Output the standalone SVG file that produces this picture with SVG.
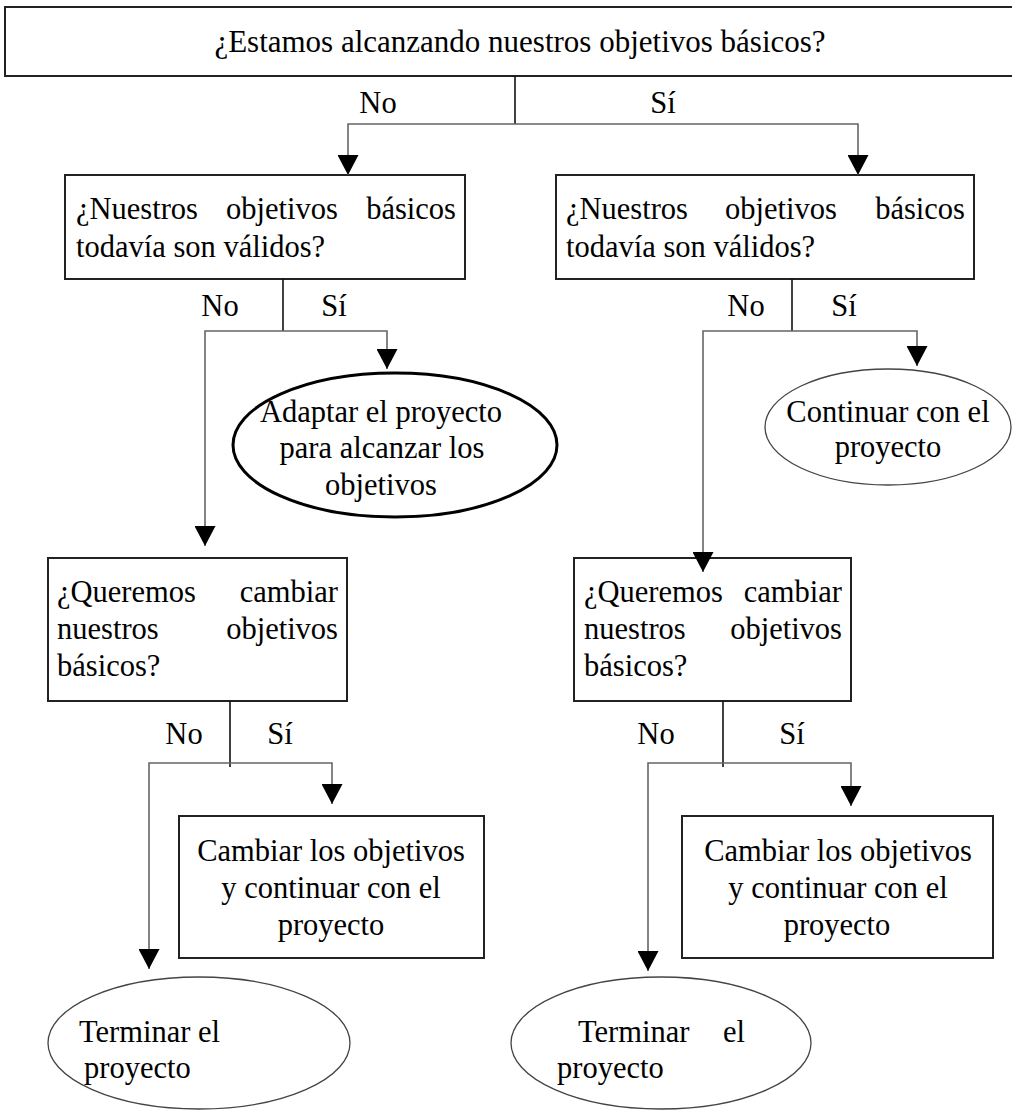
<svg xmlns="http://www.w3.org/2000/svg" width="1012" height="1110" viewBox="0 0 1012 1110">
  <style>
    text { font-family: "Liberation Serif", "Times New Roman", serif; font-size: 30.5px; fill: #000; }
    .title { font-size: 31px; }
    .mid { text-anchor: middle; }
    .end { text-anchor: end; }
    .box { fill: #fff; stroke: #222; stroke-width: 2; }
    .oval { fill: #fff; stroke: #444; stroke-width: 1.3; }
    .oval-bold { fill: #fff; stroke: #000; stroke-width: 3; }
    .stem { fill: none; stroke: #111; stroke-width: 1.6; }
    .branch { fill: none; stroke: #666; stroke-width: 1.6; marker-end: url(#arrow); }
  </style>
  <defs>
    <marker id="arrow" markerUnits="userSpaceOnUse" markerWidth="21" markerHeight="21" refX="20" refY="10.5" orient="auto">
      <path d="M0,0 L20,10.5 L0,21 z" fill="#000"/>
    </marker>
  </defs>
  <rect width="1012" height="1110" fill="#fff"/>

  <!-- top question -->
  <g id="q-main">
    <rect class="box" x="5" y="7" width="1030" height="69"/>
    <text x="520" y="52" class="title mid">¿Estamos alcanzando nuestros objetivos básicos?</text>
  </g>

  <g id="q-valid-no">
    <rect class="box" x="65" y="175" width="400" height="104"/>
    <text x="76" y="219">¿Nuestros</text>
    <text x="226" y="219">objetivos</text>
    <text x="456" y="219" class="end">básicos</text>
    <text x="76" y="257">todavía son válidos?</text>
  </g>

  <g id="q-valid-yes">
    <rect class="box" x="556" y="175" width="418" height="104"/>
    <text x="566" y="219">¿Nuestros</text>
    <text x="725" y="219">objetivos</text>
    <text x="965" y="219" class="end">básicos</text>
    <text x="566" y="257">todavía son válidos?</text>
  </g>

  <g id="adapt">
    <ellipse class="oval-bold" cx="395" cy="445" rx="162" ry="72"/>
    <text x="381" y="422" class="mid">Adaptar el proyecto</text>
    <text x="382" y="458" class="mid">para alcanzar los</text>
    <text x="381" y="495" class="mid">objetivos</text>
  </g>

  <g id="continue">
    <ellipse class="oval" cx="888" cy="427" rx="123" ry="58"/>
    <text x="888" y="422" class="mid">Continuar con el</text>
    <text x="888" y="457" class="mid">proyecto</text>
  </g>

  <g id="q-change-left">
    <rect class="box" x="48" y="558" width="299" height="143"/>
    <text x="57" y="602">¿Queremos</text>
    <text x="338" y="602" class="end">cambiar</text>
    <text x="57" y="639">nuestros</text>
    <text x="338" y="639" class="end">objetivos</text>
    <text x="57" y="676">básicos?</text>
  </g>

  <g id="q-change-right">
    <rect class="box" x="574" y="558" width="277" height="143"/>
    <text x="584" y="602">¿Queremos</text>
    <text x="842" y="602" class="end">cambiar</text>
    <text x="584" y="639">nuestros</text>
    <text x="842" y="639" class="end">objetivos</text>
    <text x="584" y="676">básicos?</text>
  </g>

  <g id="change-left">
    <rect class="box" x="179" y="816" width="305" height="142"/>
    <text x="331" y="861" class="mid">Cambiar los objetivos</text>
    <text x="331" y="898" class="mid">y continuar con el</text>
    <text x="331" y="935" class="mid">proyecto</text>
  </g>

  <g id="change-right">
    <rect class="box" x="682" y="816" width="311" height="142"/>
    <text x="838" y="861" class="mid">Cambiar los objetivos</text>
    <text x="838" y="898" class="mid">y continuar con el</text>
    <text x="837" y="935" class="mid">proyecto</text>
  </g>

  <g id="end-left">
    <ellipse class="oval" cx="199" cy="1043" rx="151" ry="66"/>
    <text x="79" y="1042">Terminar el</text>
    <text x="84" y="1078">proyecto</text>
  </g>

  <g id="end-right">
    <ellipse class="oval" cx="661" cy="1043" rx="150" ry="66"/>
    <text x="578" y="1042">Terminar</text>
    <text x="745" y="1042" class="end">el</text>
    <text x="557" y="1078">proyecto</text>
  </g>

  <!-- connectors, drawn last so arrowheads sit on top of the shapes -->
  <g id="connectors">
    <path class="stem" d="M515,76 V124"/>
    <path class="branch" d="M515,124 H348 V175"/>
    <path class="branch" d="M515,124 H858 V175"/>

    <path class="stem" d="M283,279 V331"/>
    <path class="branch" d="M283,331 H387 V369"/>
    <path class="branch" d="M283,331 H205 V546"/>

    <path class="stem" d="M792,279 V331"/>
    <path class="branch" d="M792,331 H917 V366"/>
    <path class="branch" d="M792,331 H703 V572"/>

    <path class="stem" d="M230,701 V767"/>
    <path class="branch" d="M230,763 H332 V804"/>
    <path class="branch" d="M230,763 H149 V969"/>

    <path class="stem" d="M723,701 V767"/>
    <path class="branch" d="M723,763 H851 V806"/>
    <path class="branch" d="M723,763 H648 V971"/>

    <text x="378" y="113" class="mid">No</text>
    <text x="663" y="113" class="mid">Sí</text>
    <text x="220" y="316" class="mid">No</text>
    <text x="334" y="316" class="mid">Sí</text>
    <text x="746" y="316" class="mid">No</text>
    <text x="844" y="316" class="mid">Sí</text>
    <text x="184" y="744" class="mid">No</text>
    <text x="280" y="744" class="mid">Sí</text>
    <text x="656" y="744" class="mid">No</text>
    <text x="792" y="744" class="mid">Sí</text>
  </g>
</svg>
